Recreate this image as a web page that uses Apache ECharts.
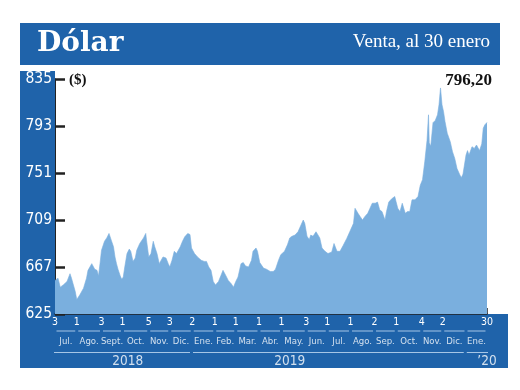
<!DOCTYPE html>
<html><head><meta charset="utf-8">
<script src="https://cdn.jsdelivr.net/npm/echarts@6/dist/echarts.min.js"></script>
<style>html,body{margin:0;padding:0;background:#fff}#c{width:520px;height:390px}</style>
</head><body><div id="c"></div>
<script>
const dates = ['2018-07-03','2018-07-07','2018-07-10','2018-07-14','2018-07-19','2018-07-23','2018-07-25','2018-07-30','2018-08-01','2018-08-05','2018-08-10','2018-08-14','2018-08-16','2018-08-21','2018-08-25','2018-08-28','2018-08-30','2018-09-01','2018-09-03','2018-09-07','2018-09-10','2018-09-13','2018-09-16','2018-09-19','2018-09-21','2018-09-23','2018-09-25','2018-09-28','2018-09-30','2018-10-02','2018-10-04','2018-10-07','2018-10-10','2018-10-12','2018-10-15','2018-10-18','2018-10-20','2018-10-24','2018-10-29','2018-11-01','2018-11-02','2018-11-05','2018-11-08','2018-11-11','2018-11-13','2018-11-16','2018-11-19','2018-11-21','2018-11-24','2018-11-28','2018-12-01','2018-12-03','2018-12-06','2018-12-09','2018-12-12','2018-12-17','2018-12-20','2018-12-23','2018-12-27','2018-12-30','2019-01-01','2019-01-05','2019-01-09','2019-01-14','2019-01-18','2019-01-21','2019-01-24','2019-01-27','2019-01-30','2019-02-02','2019-02-06','2019-02-09','2019-02-12','2019-02-16','2019-02-19','2019-02-23','2019-02-26','2019-03-01','2019-03-04','2019-03-08','2019-03-11','2019-03-14','2019-03-18','2019-03-22','2019-03-24','2019-03-28','2019-03-30','2019-04-02','2019-04-07','2019-04-11','2019-04-16','2019-04-20','2019-04-23','2019-04-27','2019-04-30','2019-05-05','2019-05-09','2019-05-12','2019-05-15','2019-05-19','2019-05-23','2019-05-27','2019-05-30','2019-06-01','2019-06-04','2019-06-07','2019-06-09','2019-06-12','2019-06-16','2019-06-18','2019-06-21','2019-06-24','2019-06-28','2019-07-02','2019-07-07','2019-07-10','2019-07-14','2019-07-18','2019-07-22','2019-07-27','2019-07-31','2019-08-05','2019-08-07','2019-08-11','2019-08-14','2019-08-17','2019-08-20','2019-08-24','2019-08-27','2019-08-30','2019-09-03','2019-09-06','2019-09-09','2019-09-12','2019-09-16','2019-09-18','2019-09-21','2019-09-25','2019-09-29','2019-10-03','2019-10-06','2019-10-09','2019-10-13','2019-10-16','2019-10-19','2019-10-22','2019-10-26','2019-10-30','2019-11-02','2019-11-05','2019-11-08','2019-11-11','2019-11-13','2019-11-14','2019-11-16','2019-11-19','2019-11-22','2019-11-25','2019-11-27','2019-11-29','2019-12-01','2019-12-03','2019-12-05','2019-12-08','2019-12-12','2019-12-15','2019-12-18','2019-12-21','2019-12-25','2019-12-27','2019-12-29','2020-01-02','2020-01-04','2020-01-06','2020-01-10','2020-01-13','2020-01-16','2020-01-20','2020-01-23','2020-01-25','2020-01-27','2020-01-30'];
const values = [655,657,649,651,654,661,657,645,638,642,648,657,664,670,665,664,659,670,682,690,693,697,691,685,676,670,665,659,656,658,667,679,683,681,672,675,682,688,693,697,691,676,679,690,685,679,670,669,676,675,670,667,673,681,679,685,690,694,697,696,684,679,676,673,672,672,667,664,654,651,654,659,664,659,655,652,649,654,658,670,671,668,667,673,681,684,681,671,666,665,663,663,665,673,678,681,687,693,694.5,695.5,698.5,704.5,709,706,694.5,691.5,695.5,694.5,698.5,700,693,684,681,679,680.5,688,681,681,686,692.5,698.5,706,719.5,715,712,709,712,715,719.5,724,724,725,718,716.5,709,716.5,725,728,730,719.5,716.5,724,715,716.5,716.5,727,727,730,740,745,761,780,803,778,775,796,798,803,812,827,812,806,797,786.5,779,770,764,755,749,747,750,767,771,767,774.5,773,776,771,777,791,794,796.2];
const tickDates = ['2018-07-03','2018-08-01','2018-09-03','2018-10-01','2018-11-05','2018-12-03','2019-01-02','2019-02-01','2019-03-01','2019-04-01','2019-05-01','2019-06-03','2019-07-01','2019-08-01','2019-09-02','2019-10-01','2019-11-04','2019-12-02','2020-01-02','2020-01-30'];
const tickLabels = ['3','1','3','1','5','3','2','1','1','1','1','3','1','1','2','1','4','2','','30'];
const monthLabels = ['Jul.','Ago.','Sept.','Oct.','Nov.','Dic.','Ene.','Feb.','Mar.','Abr.','May.','Jun.','Jul.','Ago.','Sep.','Oct.','Nov.','Dic.','Ene.'];
const yearLabels = ['2018','2019','\u201920'];
const yTicks = [625,667,709,751,793,835];

const BLUE = '#1f63aa';
const FILL = '#7aafde';
const NARROW = "'Liberation Sans Narrow','DejaVu Sans Condensed',sans-serif";
const DAY = 86400000;
const t = s => new Date(s + 'T00:00:00Z').getTime();
const xMin = t(tickDates[0]), xMax = t(tickDates[tickDates.length - 1]);

const monthSeg = [];
for (let i = 0; i < tickDates.length - 1; i++) {
  monthSeg.push([t(tickDates[i]) + 2 * DAY, 17], [t(tickDates[i + 1]) - 2 * DAY, 17], [null, null]);
}
const yearBounds = [[xMin - 7 * DAY, t('2019-01-01') - 2 * DAY], [t('2019-01-01') + 2 * DAY, t('2020-01-01') - 2 * DAY], [t('2020-01-01') + 2 * DAY, xMax + 12 * DAY]];
const yearSeg = [];
yearBounds.forEach(b => yearSeg.push([b[0], 38.5], [b[1], 38.5], [null, null]));
const monthMid = [];
for (let i = 0; i < tickDates.length - 1; i++) {
  monthMid.push([(t(tickDates[i]) + t(tickDates[i + 1])) / 2, 28]);
}
const yearAnchor = [t('2018-10-08'), t('2019-05-12'), xMax];

const chart = echarts.init(document.getElementById('c'), null, {renderer: 'canvas'});
const last = values[values.length - 1];
chart.setOption({
  animation: false,
  backgroundColor: '#fff',
  graphic: {elements: [
    {type: 'rect', z: -10, shape: {x: 20, y: 23, width: 480, height: 42}, style: {fill: BLUE}},
    {type: 'rect', z: -10, shape: {x: 20, y: 71, width: 35, height: 297}, style: {fill: BLUE}},
    {type: 'rect', z: -10, shape: {x: 20, y: 314, width: 488, height: 54}, style: {fill: BLUE}},
    {type: 'text', z: 100, x: 37, y: 44, style: {text: 'Dólar', fill: '#fff', font: "bold 28px 'DejaVu Serif', serif", verticalAlign: 'middle', align: 'left'}},
    {type: 'text', z: 100, x: 490, y: 42, style: {text: 'Venta, al 30 enero', fill: '#fff', font: "19px 'Liberation Serif', serif", verticalAlign: 'middle', align: 'right'}},
    {type: 'text', z: 100, x: 69, y: 80, style: {text: '($)', fill: '#111', font: "bold 15px 'Liberation Serif', serif", verticalAlign: 'middle', align: 'left'}},
    {type: 'text', z: 100, x: 492, y: 81, style: {text: last.toFixed(2).replace('.', ','), fill: '#111', font: "bold 17px 'Liberation Serif', serif", verticalAlign: 'middle', align: 'right'}}
  ]},
  grid: [
    {left: 55, top: 79, width: 432, height: 235},
    {left: 55, top: 314, width: 432, height: 54}
  ],
  xAxis: [
    {type: 'value', gridIndex: 0, min: xMin, max: xMax,
     axisLine: {show: true, lineStyle: {color: '#222', width: 1.5}},
     axisTick: {show: true, inside: true, length: 6, customValues: [xMax], lineStyle: {color: '#222', width: 1.5}},
     splitLine: {show: false},
     axisLabel: {show: true, customValues: tickDates.map(t), margin: 3, color: '#fff', fontSize: 10.5, fontFamily: NARROW,
       formatter: v => { const i = tickDates.findIndex(d => t(d) === v); return i >= 0 ? tickLabels[i] : ''; }}},
    {type: 'value', gridIndex: 1, min: xMin, max: xMax, show: false}
  ],
  yAxis: [
    {type: 'value', gridIndex: 0, min: 625, max: 835, interval: 42,
     axisLine: {show: true, lineStyle: {color: '#222', width: 1}},
     axisTick: {show: true, inside: true, length: 10, lineStyle: {color: '#222', width: 2.5}},
     splitLine: {show: false},
     axisLabel: {show: true, margin: 3, color: '#fff', fontSize: 15.5, fontFamily: NARROW}},
    {type: 'value', gridIndex: 1, min: 0, max: 54, inverse: true, show: false}
  ],
  series: [
    {type: 'line', name: 'Dólar', xAxisIndex: 0, yAxisIndex: 0, data: dates.map((d, i) => [t(d), values[i]]),
     symbol: 'none', lineStyle: {width: 0.6, color: FILL}, areaStyle: {color: FILL, opacity: 1}, z: 1},
    {type: 'line', xAxisIndex: 1, yAxisIndex: 1, data: monthSeg, symbol: 'none', connectNulls: false, clip: false, silent: true,
     lineStyle: {color: 'rgba(200,222,245,0.8)', width: 1}},
    {type: 'line', xAxisIndex: 1, yAxisIndex: 1, data: yearSeg, symbol: 'none', connectNulls: false, clip: false, silent: true,
     lineStyle: {color: 'rgba(200,222,245,0.8)', width: 1}},
    {type: 'scatter', xAxisIndex: 1, yAxisIndex: 1, data: monthMid, symbolSize: 1, itemStyle: {color: 'rgba(0,0,0,0)'}, silent: true,
     label: {show: true, position: 'inside', color: '#fff', fontSize: 9.5, fontFamily: NARROW, formatter: p => monthLabels[p.dataIndex]}},
    {type: 'scatter', xAxisIndex: 1, yAxisIndex: 1, data: yearAnchor.map(x => [x, 47]), symbolSize: 1, itemStyle: {color: 'rgba(0,0,0,0)'}, silent: true, clip: false,
     label: {show: true, position: 'inside', color: '#fff', fontSize: 13.5, fontFamily: NARROW, formatter: p => yearLabels[p.dataIndex]}}
  ]
});
</script></body></html>
